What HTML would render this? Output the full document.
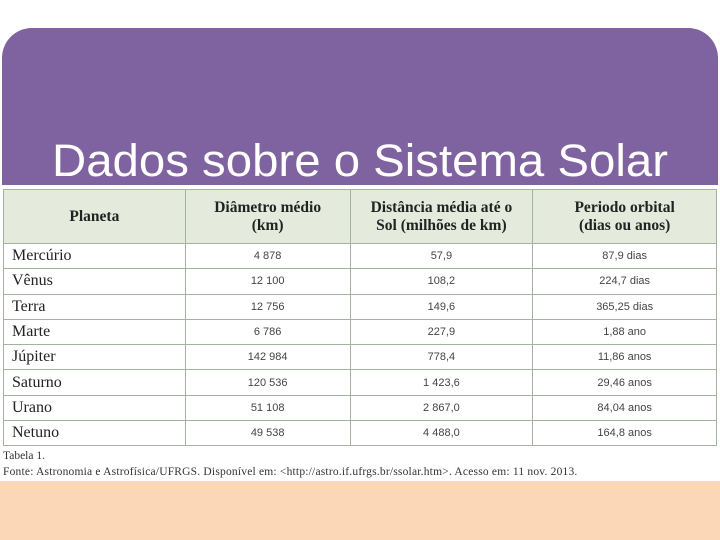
<!DOCTYPE html>
<html><head><meta charset="utf-8"><style>
body{margin:0;width:720px;height:540px;background:#fff;position:relative;overflow:hidden;font-family:"Liberation Serif",serif;}
.purple{position:absolute;left:2px;top:28px;width:716px;height:157px;background:#7f63a0;border-radius:30px 30px 0 0;}
.peach{position:absolute;left:0;top:481px;width:720px;height:59px;background:#fbd7b8;}
table{position:absolute;left:3px;top:189px;border-collapse:collapse;width:714px;}
td,th{border:1px solid #a3b3a0;padding:0;}
th{background:#e4ebdc;height:53px;font-weight:bold;font-size:15.5px;line-height:18px;color:#222;}
td{height:24.3px;font-size:11px;text-align:center;color:#444;font-family:"Liberation Sans",sans-serif;}
td.p{text-align:left;padding-left:8px;font-family:"Liberation Serif",serif;font-size:16px;color:#222;}
.cap{position:absolute;left:3px;font-size:11.5px;color:#333;white-space:nowrap;}
</style></head><body>
<div class="purple"></div>
<svg style="position:absolute;left:0;top:0" width="720" height="190"><text x="52" y="176" font-family="Liberation Sans, sans-serif" font-size="45" fill="#fff" textLength="616" lengthAdjust="spacingAndGlyphs">Dados sobre o Sistema Solar</text></svg>
<table>
<colgroup><col style="width:182px"><col style="width:165px"><col style="width:183px"><col style="width:184px"></colgroup>
<tr><th>Planeta</th><th>Diâmetro médio<br>(km)</th><th>Distância média até o<br>Sol (milhões de km)</th><th>Periodo orbital<br>(dias ou anos)</th></tr>
<tr><td class="p">Mercúrio</td><td>4 878</td><td>57,9</td><td>87,9 dias</td></tr>
<tr><td class="p">Vênus</td><td>12 100</td><td>108,2</td><td>224,7 dias</td></tr>
<tr><td class="p">Terra</td><td>12 756</td><td>149,6</td><td>365,25 dias</td></tr>
<tr><td class="p">Marte</td><td>6 786</td><td>227,9</td><td>1,88 ano</td></tr>
<tr><td class="p">Júpiter</td><td>142 984</td><td>778,4</td><td>11,86 anos</td></tr>
<tr><td class="p">Saturno</td><td>120 536</td><td>1 423,6</td><td>29,46 anos</td></tr>
<tr><td class="p">Urano</td><td>51 108</td><td>2 867,0</td><td>84,04 anos</td></tr>
<tr><td class="p">Netuno</td><td>49 538</td><td>4 488,0</td><td>164,8 anos</td></tr>
</table>
<div class="cap" style="top:450px">Tabela 1.</div>
<div class="cap" style="top:466px;letter-spacing:0.2px">Fonte: Astronomia e Astrofísica/UFRGS. Disponível em: &lt;http://astro.if.ufrgs.br/ssolar.htm&gt;. Acesso em: 11 nov. 2013.</div>
<div class="peach"></div>
</body></html>
